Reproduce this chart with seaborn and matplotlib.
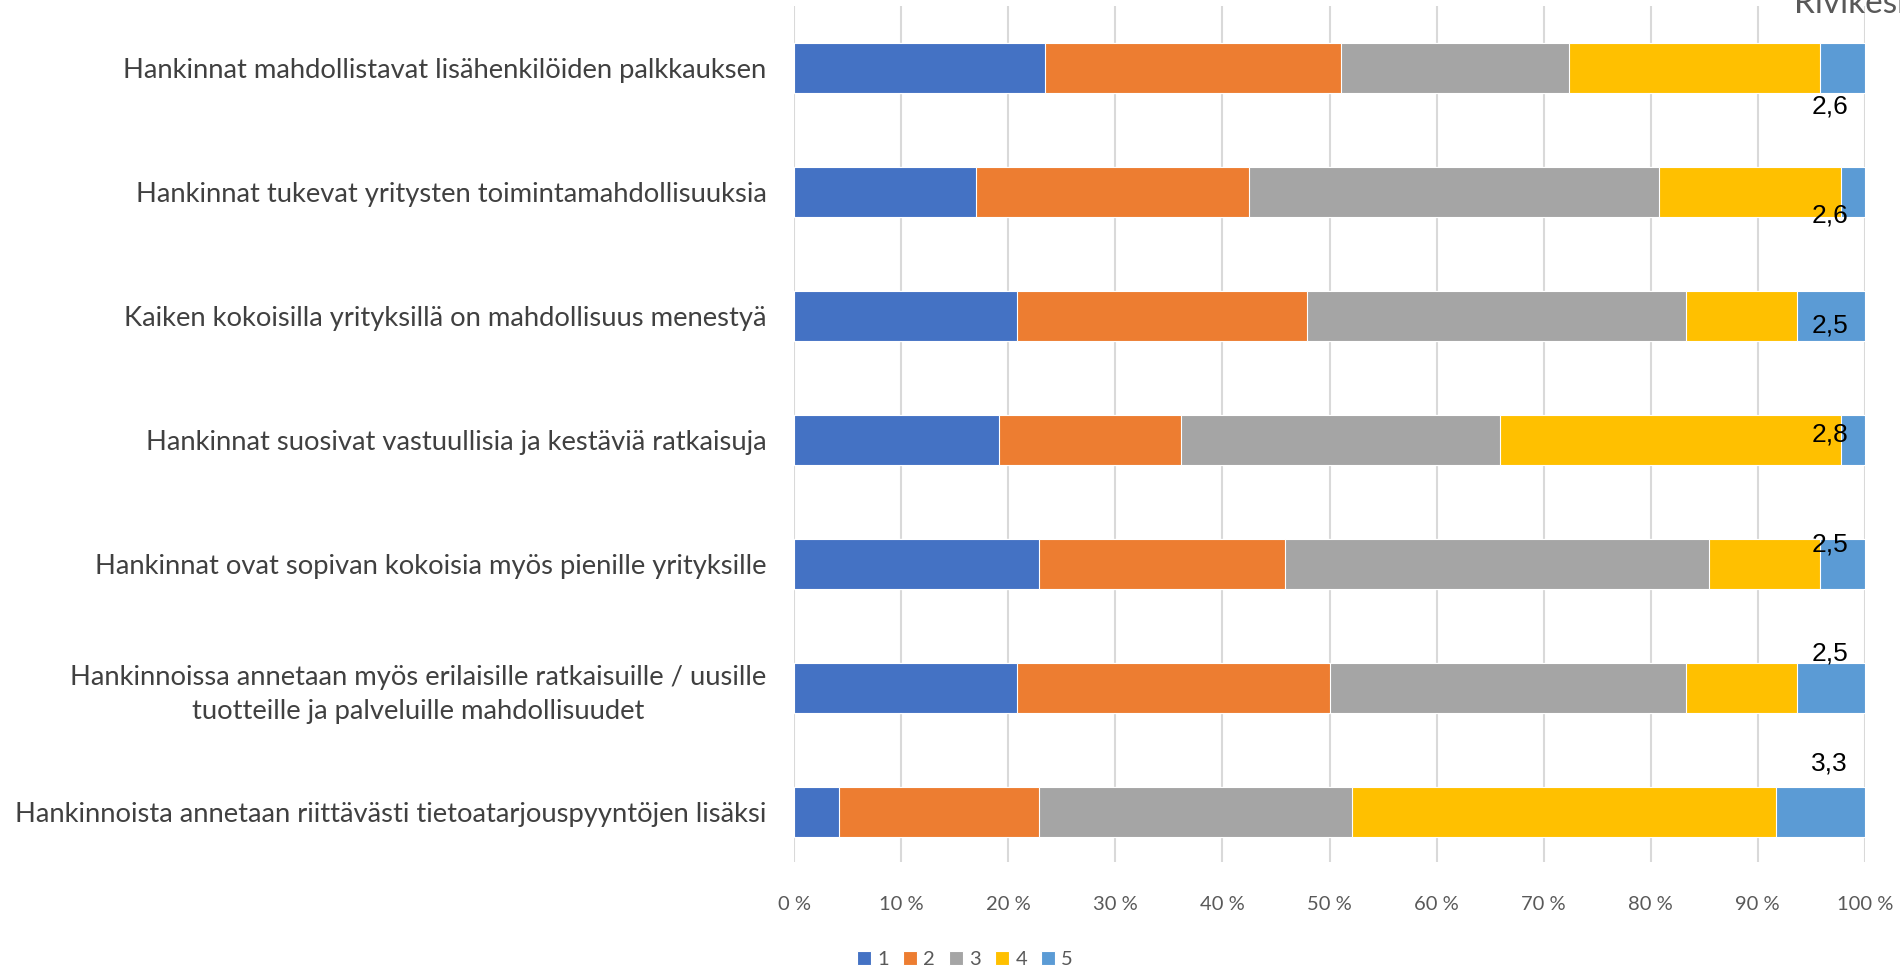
import numpy as np
import pandas as pd
import matplotlib
matplotlib.use("Agg")
import matplotlib.pyplot as plt
import seaborn as sns

# --- data (share of answers, %) ---
statements = [
    "Hankinnat mahdollistavat lisähenkilöiden palkkauksen",
    "Hankinnat tukevat yritysten toimintamahdollisuuksia",
    "Kaiken kokoisilla yrityksillä on mahdollisuus menestyä",
    "Hankinnat suosivat vastuullisia ja kestäviä ratkaisuja",
    "Hankinnat ovat sopivan kokoisia myös pienille yrityksille",
    "Hankinnoissa annetaan myös erilaisille ratkaisuille / uusille\ntuotteille ja palveluille mahdollisuudet",
    "Hankinnoista annetaan riittävästi tietoatarjouspyyntöjen lisäksi",
]
levels = ["1", "2", "3", "4", "5"]
share_1 = [23.4, 17.0, 20.8, 19.1, 22.9, 20.8, 4.2]
share_2 = [27.7, 25.5, 27.1, 17.0, 22.9, 29.2, 18.7]
share_3 = [21.3, 38.3, 35.4, 29.8, 39.6, 33.3, 29.2]
share_4 = [23.4, 17.0, 10.4, 31.9, 10.4, 10.4, 39.6]
share_5 = [4.2, 2.2, 6.3, 2.2, 4.2, 6.3, 8.3]
row_mean = [2.6, 2.6, 2.5, 2.8, 2.5, 2.5, 3.3]
colors = ["#4472C4", "#ED7D31", "#A5A5A5", "#FFC000", "#5B9BD5"]

df = pd.DataFrame({"statement": statements, "1": share_1, "2": share_2,
                   "3": share_3, "4": share_4, "5": share_5})
cum = df[levels].cumsum(axis=1)

sns.set_theme(style="white")
plt.rcParams['font.family'] = ['Lato', 'DejaVu Sans']

fig = plt.figure(figsize=(19, 9.67), dpi=100)
ax = fig.add_axes([0.418, 0.109, 0.5635, 0.885])

# stacked bars: draw cumulative totals from the right-most segment down
for lvl, col in reversed(list(zip(levels, colors))):
    sns.barplot(x=cum[lvl], y=df["statement"], orient="h", color=col,
                width=0.4, edgecolor="white", linewidth=0.8, ax=ax,
                label=lvl, saturation=1, zorder=3)
handles, labels = ax.get_legend_handles_labels()
if ax.get_legend() is not None:
    ax.get_legend().remove()

ax.set_xlim(0, 100)
ax.set_ylim(6.40, -0.5)
ax.set_xticks(np.arange(0, 101, 10))
ax.set_xticklabels([f"{t} %" for t in range(0, 101, 10)], fontsize=14.5, color="#595959")
ax.tick_params(axis="x", length=0, pad=25)
ax.tick_params(axis="y", length=0, pad=20)
for lab in ax.get_yticklabels():
    lab.set_fontsize(19.7)
    lab.set_color("#404040")
    lab.set_multialignment("center")
    lab.set_linespacing(1.45)
ax.xaxis.grid(True, color="#D9D9D9", linewidth=1.5, zorder=0)
ax.yaxis.grid(False)
ax.set_xlabel("")
ax.set_ylabel("")
for s in ax.spines.values():
    s.set_visible(False)

# row averages ("Rivikeskiarvo") as data labels near the right edge
for i, m in enumerate(row_mean):
    ax.text(96.7, 3 + (i - 3) * 0.883 - 0.04, f"{m:.1f}".replace(".", ","),
            ha="center", va="center", fontsize=19, color="black",
            family=["Liberation Sans", "DejaVu Sans"], zorder=5)

fig.text(0.944, 1 - 13 / 967, "Rivikeskiarvo", fontsize=24, color="#595959",
         ha="left", va="baseline")

order = [labels.index(l) for l in levels]
fig.legend([handles[k] for k in order], levels, loc="center",
           bbox_to_anchor=(0.508, 0.008), ncol=5, frameon=False,
           fontsize=14.5, handlelength=0.7, handleheight=0.7,
           handletextpad=0.3, columnspacing=0.7, labelcolor="#595959")

fig.savefig("out.png", dpi=100)
